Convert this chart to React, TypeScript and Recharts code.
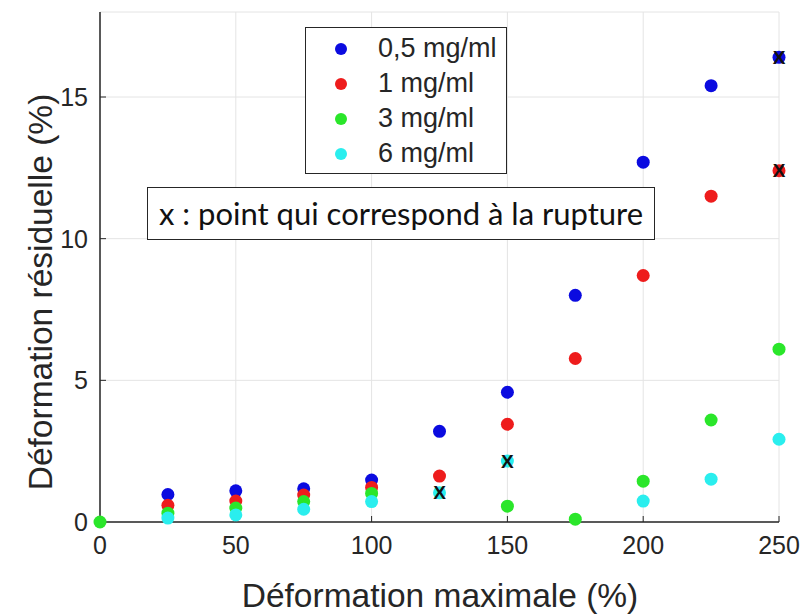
import React from "react";
import {
  ScatterChart,
  Scatter,
  XAxis,
  YAxis,
  CartesianGrid,
  Legend,
} from "recharts";

const xTicks = [0, 50, 100, 150, 200, 250];
const yTicks = [0, 5, 10, 15];

// déformation maximale (%) -> déformation résiduelle (%)
const conc05 = [
  { x: 25, y: 0.97 },
  { x: 50, y: 1.1 },
  { x: 75, y: 1.17 },
  { x: 100, y: 1.48 },
  { x: 125, y: 3.2 },
  { x: 150, y: 4.58 },
  { x: 175, y: 8.0 },
  { x: 200, y: 12.7 },
  { x: 225, y: 15.4 },
  { x: 250, y: 16.4 },
];
const conc1 = [
  { x: 25, y: 0.59 },
  { x: 50, y: 0.74 },
  { x: 75, y: 0.95 },
  { x: 100, y: 1.22 },
  { x: 125, y: 1.62 },
  { x: 150, y: 3.45 },
  { x: 175, y: 5.77 },
  { x: 200, y: 8.7 },
  { x: 225, y: 11.5 },
  { x: 250, y: 12.4 },
];
const conc3 = [
  { x: 0, y: 0 },
  { x: 25, y: 0.31 },
  { x: 50, y: 0.49 },
  { x: 75, y: 0.72 },
  { x: 100, y: 1.01 },
  { x: 150, y: 0.56 },
  { x: 175, y: 0.1 },
  { x: 200, y: 1.44 },
  { x: 225, y: 3.6 },
  { x: 250, y: 6.1 },
];
const conc6 = [
  { x: 25, y: 0.14 },
  { x: 50, y: 0.25 },
  { x: 75, y: 0.45 },
  { x: 100, y: 0.72 },
  { x: 125, y: 1.03 },
  { x: 150, y: 2.15 },
  { x: 200, y: 0.74 },
  { x: 225, y: 1.51 },
  { x: 250, y: 2.92 },
];
// points where the sample broke
const rupture = [
  { x: 125, y: 1.03 },
  { x: 150, y: 2.15 },
  { x: 250, y: 16.4 },
  { x: 250, y: 12.4 },
];

const AXIS = "#262626";
const FONT = "'Liberation Sans', Arial, sans-serif";

const dot = (color: string) => (p: any) =>
  <circle cx={p.cx} cy={p.cy} r={6.5} fill={color} />;

const cross = (p: any) => (
  <text
    x={p.cx}
    y={p.cy}
    textAnchor="middle"
    dominantBaseline="central"
    fontFamily={FONT}
    fontWeight="bold"
    fontSize={19}
    fill="#111"
  >
    X
  </text>
);

const LegendBox = ({ payload }: any) => (
  <div
    style={{
      border: `1px solid ${AXIS}`,
      background: "#fff",
      width: 202,
      height: 147,
      paddingTop: 3,
      boxSizing: "border-box",
      fontFamily: FONT,
      fontSize: 27,
      color: AXIS,
      textAlign: "left",
    }}
  >
    {(payload || [])
      .filter((e: any) => e.type !== "none")
      .map((e: any) => (
        <div
          key={e.value}
          style={{ display: "flex", alignItems: "center", height: 35 }}
        >
          <span
            style={{
              display: "inline-block",
              width: 12,
              height: 12,
              borderRadius: 6,
              background: e.color,
              marginLeft: 29,
              marginRight: 31,
            }}
          />
          <span>{e.value}</span>
        </div>
      ))}
  </div>
);

const YTitle = () => (
  <text
    x={0}
    y={0}
    transform="translate(52,292) rotate(-90)"
    textAnchor="middle"
    fontFamily={FONT}
    fontSize={33.5}
    fill={AXIS}
  >
    Déformation résiduelle (%)
  </text>
);

const XTitle = () => (
  <text
    x={440}
    y={607}
    textAnchor="middle"
    fontFamily={FONT}
    fontSize={33.5}
    fill={AXIS}
  >
    Déformation maximale (%)
  </text>
);

export default function App() {
  return (
    <div
      style={{
        position: "absolute",
        left: 0,
        top: 0,
        width: 809,
        height: 616,
        background: "#fff",
      }}
    >
      <ScatterChart
        width={809}
        height={616}
        margin={{ top: 12, right: 30, bottom: 0, left: 0 }}
      >
        <CartesianGrid stroke="#e4e4e4" />
        <XAxis
          type="number"
          dataKey="x"
          domain={[0, 250]}
          ticks={xTicks}
          height={94}
          tickSize={-6}
          tickMargin={20}
          tickLine={{ stroke: AXIS }}
          tick={{ fontSize: 25, fill: AXIS, fontFamily: FONT }}
          axisLine={{ stroke: AXIS, strokeWidth: 1.5 }}
          label={<XTitle />}
        />
        <XAxis
          xAxisId="top"
          orientation="top"
          type="number"
          dataKey="x"
          domain={[0, 250]}
          ticks={xTicks}
          height={0}
          tick={false}
          tickSize={-6}
          tickLine={{ stroke: AXIS }}
          axisLine={{ stroke: "#555", strokeWidth: 1.5 }}
        />
        <YAxis
          type="number"
          dataKey="y"
          domain={[0, 18]}
          ticks={yTicks}
          width={100}
          tickSize={-6}
          tickMargin={18}
          tickLine={{ stroke: AXIS }}
          tick={{ fontSize: 25, fill: AXIS, fontFamily: FONT }}
          axisLine={{ stroke: AXIS, strokeWidth: 1.5 }}
          label={<YTitle />}
        />
        <YAxis
          yAxisId="right"
          orientation="right"
          type="number"
          dataKey="y"
          domain={[0, 18]}
          ticks={yTicks}
          width={0}
          tick={false}
          tickSize={-6}
          tickLine={{ stroke: AXIS }}
          axisLine={{ stroke: "#808080", strokeWidth: 2.5 }}
        />
        <Legend
          layout="vertical"
          align="center"
          verticalAlign="middle"
          content={<LegendBox />}
          wrapperStyle={{ left: 305, top: 27, width: 202, height: 147 }}
        />
        <Scatter
          name="0,5 mg/ml"
          data={conc05}
          fill="#0b0be0"
          shape={dot("#0b0be0")}
          isAnimationActive={false}
        />
        <Scatter
          name="1 mg/ml"
          data={conc1}
          fill="#ee1c1c"
          shape={dot("#ee1c1c")}
          isAnimationActive={false}
        />
        <Scatter
          name="3 mg/ml"
          data={conc3}
          fill="#2ae62a"
          shape={dot("#2ae62a")}
          isAnimationActive={false}
        />
        <Scatter
          name="6 mg/ml"
          data={conc6}
          fill="#2aeeee"
          shape={dot("#2aeeee")}
          isAnimationActive={false}
        />
        <Scatter
          name="rupture"
          data={rupture}
          legendType="none"
          shape={cross}
          isAnimationActive={false}
        />
      </ScatterChart>
      <div
        style={{
          position: "absolute",
          left: 147,
          top: 187,
          width: 508,
          height: 53,
          border: `1px solid ${AXIS}`,
          background: "#fff",
          boxSizing: "border-box",
          fontFamily: "Lato, 'Open Sans', sans-serif",
          fontSize: 31,
          color: "#111",
          lineHeight: "50px",
          paddingLeft: 11,
          whiteSpace: "nowrap",
        }}
      >
        x : point qui correspond à la rupture
      </div>
    </div>
  );
}
